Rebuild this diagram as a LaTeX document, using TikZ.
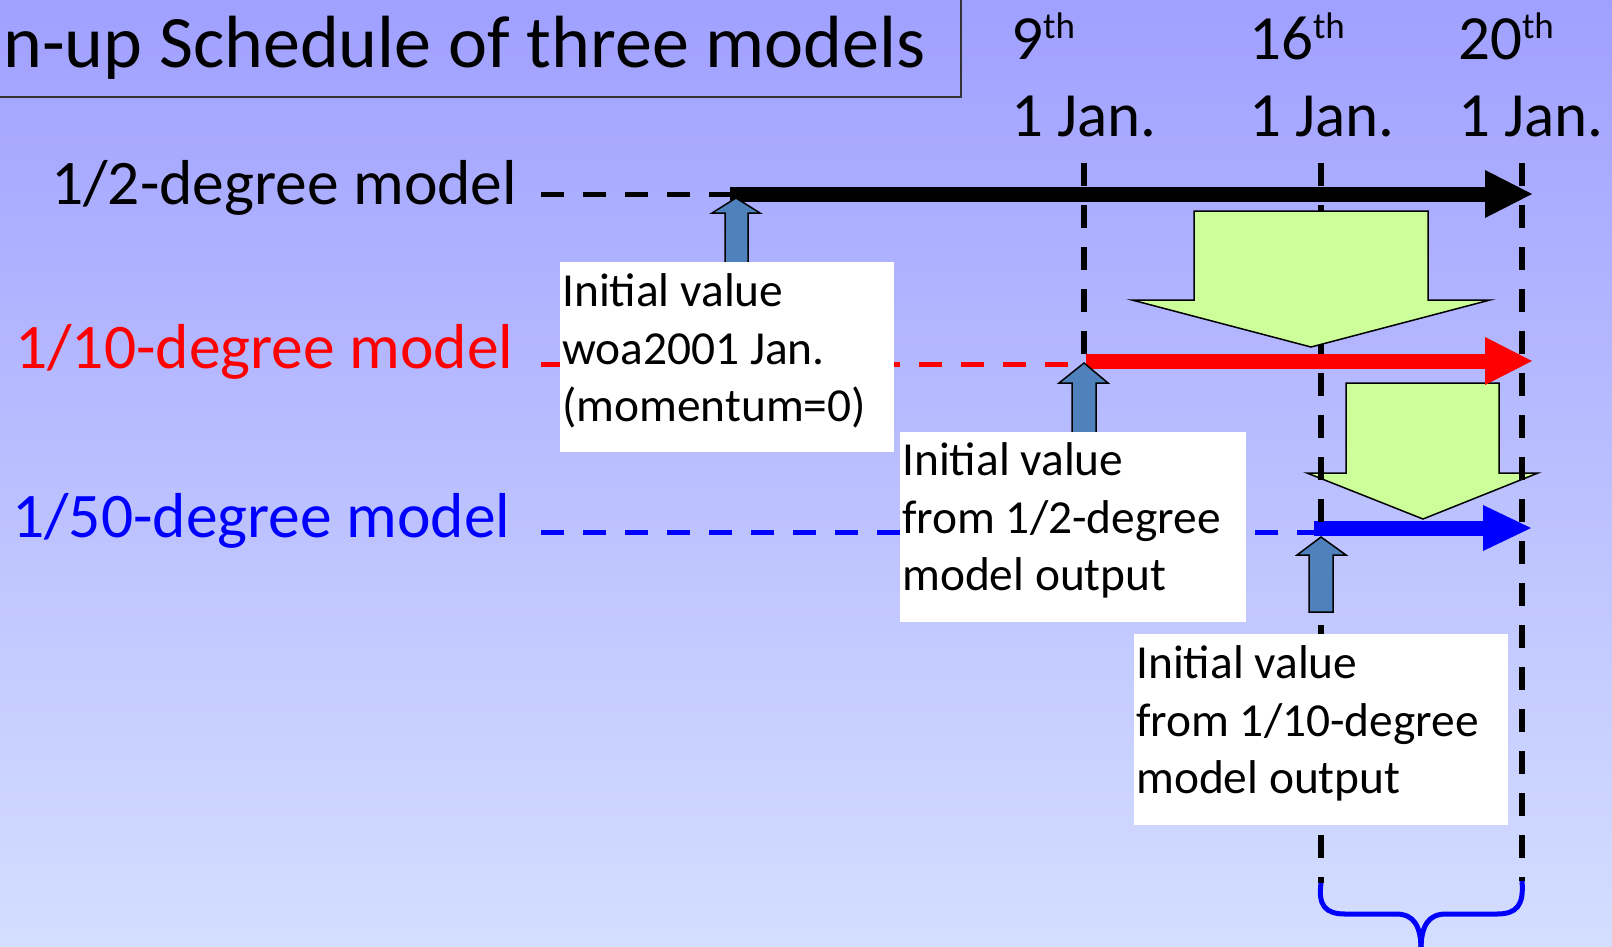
\documentclass[tikz,border=0pt]{standalone}
\usepackage{fontspec}
\setmainfont{Carlito}
\definecolor{bgtop}{RGB}{160,160,255}
\definecolor{bgbot}{RGB}{212,222,255}
\definecolor{greenfill}{RGB}{204,255,153}
\definecolor{steel}{RGB}{79,129,189}
\definecolor{pureblue}{RGB}{0,0,255}
\definecolor{purered}{RGB}{255,0,0}
\newcommand{\supth}{\raisebox{21pt}{\fontsize{37}{37}\selectfont th}}
\tikzset{
  titletxt/.style={anchor=base west, inner sep=0pt, font=\fontsize{74}{89}\selectfont},
  lbl/.style={anchor=base west, inner sep=0pt, font=\fontsize{63.5}{76}\selectfont},
  datetxt/.style={anchor=base west, inner sep=0pt, font=\fontsize{63}{76}\selectfont},
  boxtxt/.style={anchor=base west, inner sep=0pt, font=\fontsize{47.4}{57}\selectfont},
  whitebox/.style={fill=white, draw=none},
  vdash/.style={line width=6pt, dash pattern=on 23pt off 19pt},
  hdash/.style={line width=5pt, dash pattern=on 23pt off 19pt},
  runline/.style={line width=15pt},
  greenarrow/.style={fill=greenfill, draw=black, line width=1.5pt, line join=miter},
  bluearrow/.style={fill=steel, draw=black, line width=1.5pt, line join=miter},
  bracestyle/.style={draw=pureblue, line width=5pt},
}
\begin{document}
\begin{tikzpicture}[x=1pt,y=-1pt]
\useasboundingbox (0,0) rectangle (1612,946);
\clip (0,0) rectangle (1612,946);
\shade[top color=bgtop, bottom color=bgbot] (0,0) rectangle (1612,946);

% title
\draw[draw=black!80, line width=1.5pt] (-10,-10) rectangle (961,97);
\node[titletxt] (title) at (3,67) {n-up Schedule of three models};

% dates
\node[datetxt] (d9) at (1011,59) {9\supth};
\node[datetxt] (d16) at (1249,59) {16\supth};
\node[datetxt] (d20) at (1458,59) {20\supth};
\node[datetxt] (j9) at (1011,136) {1 Jan.};
\node[datetxt] (j16) at (1249,136) {1 Jan.};
\node[datetxt] (j20) at (1458,136) {1 Jan.};

% model labels
\node[lbl] (m2) at (51,204) {1/2-degree model};
\node[lbl, text=purered] (m10) at (15,368) {1/10-degree model};
\node[lbl, text=pureblue] (m50) at (12,537) {1/50-degree model};

% coordinates
\coordinate (k0) at (541,194);
\coordinate (k1) at (730,194);
\coordinate (k2) at (1487,194);
\coordinate (r0) at (541,364);
\coordinate (r0e) at (1084,364);
\coordinate (r1) at (1086,361);
\coordinate (r2) at (1487,361);
\coordinate (b0) at (541,532);
\coordinate (b0e) at (1314,532);
\coordinate (b1) at (1314,528);
\coordinate (b2) at (1485,528);
\coordinate (v9t) at (1084,163);
\coordinate (v9b) at (1084,356);
\coordinate (v16t) at (1321,163);
\coordinate (v16b) at (1321,883);
\coordinate (v20t) at (1522,163);
\coordinate (v20b) at (1522,881);

% small green arrow (below the vertical lines)
\draw[greenarrow] (1346,383) -- (1499,383) -- (1499,473) -- (1538,473) -- (1423,519) -- (1307,473) -- (1346,473) -- cycle;

% horizontal runs
\draw[hdash, black] (k0) -- (k1);
\draw[runline, black] (k1) -- (k2);
\fill[black] (1485,170) -- (1532,194) -- (1485,218) -- cycle;

\draw[hdash, purered] (r0) -- (r0e);
\draw[runline, purered] (r1) -- (r2);
\fill[purered] (1485,337) -- (1532,361) -- (1485,385) -- cycle;

\draw[hdash, pureblue] (b0) -- (b0e);
\draw[runline, pureblue] (b1) -- (b2);
\fill[pureblue] (1483,505) -- (1531,528) -- (1483,551) -- cycle;

% vertical dashed lines
\draw[vdash] (v9t) -- (v9b);
\draw[vdash] (v16t) -- (v16b);
\draw[vdash] (v20t) -- (v20b);

% big green arrow
\draw[greenarrow] (1194,211) -- (1428,211) -- (1428,300) -- (1490,300) -- (1311,347) -- (1132,300) -- (1194,300) -- cycle;

% blue up arrows
\draw[bluearrow] (736,198) -- (760,213) -- (748,213) -- (748,275) -- (725,275) -- (725,213) -- (712,213) -- cycle;
\draw[bluearrow] (1084,363) -- (1108,383) -- (1096,383) -- (1096,440) -- (1072,440) -- (1072,383) -- (1059,383) -- cycle;
\draw[bluearrow] (1321,537) -- (1346,555) -- (1333,555) -- (1333,612) -- (1309,612) -- (1309,555) -- (1297,555) -- cycle;

% white boxes
\fill[whitebox] (560,262) rectangle (894,452);
\node[boxtxt] (a1) at (562,306) {Initial value};
\node[boxtxt] (a2) at (562,364) {woa2001 Jan.};
\node[boxtxt] (a3) at (562,421) {(momentum=0)};

\fill[whitebox] (900,432) rectangle (1246,622);
\node[boxtxt] (c1) at (902,475) {Initial value};
\node[boxtxt] (c2) at (902,533) {from 1/2-degree};
\node[boxtxt] (c3) at (902,590) {model output};

\fill[whitebox] (1134,634) rectangle (1508,825);
\node[boxtxt] (e1) at (1136,678) {Initial value};
\node[boxtxt] (e2) at (1136,736) {from 1/10-degree};
\node[boxtxt] (e3) at (1136,793) {model output};

% brace
\draw[bracestyle] (v16b) .. controls (1318,905) and (1325,914) .. (1345,914) -- (1396,914) .. controls (1414,914) and (1421,926) .. (1421,950);
\draw[bracestyle] (v20b) .. controls (1524,905) and (1517,914) .. (1497,914) -- (1446,914) .. controls (1428,914) and (1421,926) .. (1421,950);
\end{tikzpicture}
\end{document}
